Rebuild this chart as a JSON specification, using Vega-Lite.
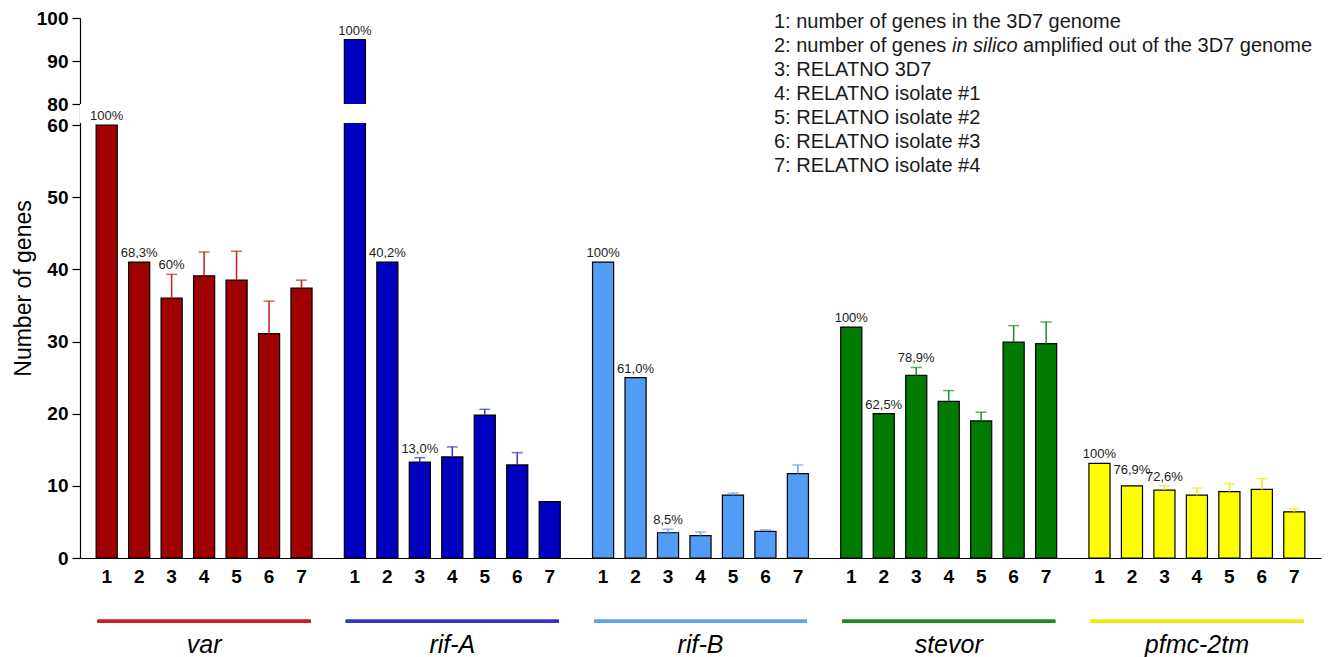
{
  "$schema": "https://vega.github.io/schema/vega-lite/v6.json",
  "width": 1241,
  "height": 540,
  "autosize": {"type": "none"},
  "padding": {"left": 80, "top": 18, "right": 10, "bottom": 99},
  "background": "white",
  "config": {"view": {"stroke": null}, "font": "Liberation Sans"},
  "layer": [
    {
      "data": {"values": [
        {"fam": "var", "n": "1", "value": 60, "hi": 60, "label": "100%"},
        {"fam": "var", "n": "2", "value": 41, "hi": 41, "label": "68,3%"},
        {"fam": "var", "n": "3", "value": 36, "hi": 39.3, "label": "60%"},
        {"fam": "var", "n": "4", "value": 39.1, "hi": 42.4, "label": null},
        {"fam": "var", "n": "5", "value": 38.5, "hi": 42.5, "label": null},
        {"fam": "var", "n": "6", "value": 31.1, "hi": 35.6, "label": null},
        {"fam": "var", "n": "7", "value": 37.4, "hi": 38.5, "label": null},
        {"fam": "rif-A", "n": "1", "value": 95, "hi": 95, "label": "100%"},
        {"fam": "rif-A", "n": "2", "value": 41, "hi": 41, "label": "40,2%"},
        {"fam": "rif-A", "n": "3", "value": 13.3, "hi": 13.9, "label": "13,0%"},
        {"fam": "rif-A", "n": "4", "value": 14.0, "hi": 15.4, "label": null},
        {"fam": "rif-A", "n": "5", "value": 19.8, "hi": 20.6, "label": null},
        {"fam": "rif-A", "n": "6", "value": 12.9, "hi": 14.6, "label": null},
        {"fam": "rif-A", "n": "7", "value": 7.8, "hi": 7.8, "label": null},
        {"fam": "rif-B", "n": "1", "value": 41, "hi": 41, "label": "100%"},
        {"fam": "rif-B", "n": "2", "value": 25, "hi": 25, "label": "61,0%"},
        {"fam": "rif-B", "n": "3", "value": 3.5, "hi": 4.0, "label": "8,5%"},
        {"fam": "rif-B", "n": "4", "value": 3.1, "hi": 3.6, "label": null},
        {"fam": "rif-B", "n": "5", "value": 8.7, "hi": 9.0, "label": null},
        {"fam": "rif-B", "n": "6", "value": 3.7, "hi": 3.9, "label": null},
        {"fam": "rif-B", "n": "7", "value": 11.7, "hi": 12.9, "label": null},
        {"fam": "stevor", "n": "1", "value": 32, "hi": 32, "label": "100%"},
        {"fam": "stevor", "n": "2", "value": 20, "hi": 20, "label": "62,5%"},
        {"fam": "stevor", "n": "3", "value": 25.3, "hi": 26.4, "label": "78,9%"},
        {"fam": "stevor", "n": "4", "value": 21.7, "hi": 23.2, "label": null},
        {"fam": "stevor", "n": "5", "value": 19.0, "hi": 20.2, "label": null},
        {"fam": "stevor", "n": "6", "value": 29.9, "hi": 32.2, "label": null},
        {"fam": "stevor", "n": "7", "value": 29.7, "hi": 32.7, "label": null},
        {"fam": "pfmc-2tm", "n": "1", "value": 13.1, "hi": 13.1, "label": "100%"},
        {"fam": "pfmc-2tm", "n": "2", "value": 10.0, "hi": 10.0, "label": "76,9%"},
        {"fam": "pfmc-2tm", "n": "3", "value": 9.4, "hi": 10.0, "label": "72,6%"},
        {"fam": "pfmc-2tm", "n": "4", "value": 8.7, "hi": 9.7, "label": null},
        {"fam": "pfmc-2tm", "n": "5", "value": 9.2, "hi": 10.3, "label": null},
        {"fam": "pfmc-2tm", "n": "6", "value": 9.5, "hi": 11.0, "label": null},
        {"fam": "pfmc-2tm", "n": "7", "value": 6.4, "hi": 6.8, "label": null}
      ]},
      "layer": [
        {
          "mark": {"type": "bar", "stroke": "black", "strokeWidth": 1.2},
          "encoding": {
            "x": {"field": "fam", "type": "nominal", "sort": null,
                  "scale": {"paddingInner": 0.13, "paddingOuter": 0.065},
                  "axis": {"title": null, "ticks": false, "tickSize": 0, "labelPadding": 94,
                           "labelBaseline": "alphabetic", "labelAngle": 0, "labelFontSize": 25,
                           "labelFontStyle": "italic", "labelColor": "black",
                           "domainColor": "black", "domainWidth": 1.2}},
            "xOffset": {"field": "n", "type": "nominal", "scale": {"paddingInner": 0.35, "paddingOuter": 0}},
            "y": {"field": "value", "type": "quantitative",
                  "scale": {"domain": [0, 60, 80, 100], "range": [540, 107, 86, 0], "nice": false, "zero": false},
                  "axis": {"title": "Number of genes", "values": [0, 10, 20, 30, 40, 50, 60, 80, 90, 100],
                           "grid": false, "labelFontSize": 19, "labelFontWeight": "bold", "labelColor": "black",
                           "labelPadding": 4, "tickSize": 8, "tickColor": "black", "tickWidth": 1.2,
                           "domainColor": "black", "domainWidth": 1.2,
                           "titleFontSize": 23, "titleFontWeight": "normal", "titleColor": "black", "titlePadding": 1}},
            "fill": {"field": "fam", "type": "nominal", "legend": null,
                     "scale": {"domain": ["var", "rif-A", "rif-B", "stevor", "pfmc-2tm"],
                               "range": ["#A00000", "#0000C0", "#529CF5", "#007A00", "#FFFF00"]}}
          }
        },
        {
          "mark": {"type": "rect", "fill": "white"},
          "encoding": {
            "y": {"datum": 61.9, "type": "quantitative"},
            "y2": {"datum": 79.8}
          }
        },
        {
          "transform": [{"filter": "datum.hi > datum.value"}],
          "mark": {"type": "rule", "strokeWidth": 1.5},
          "encoding": {
            "x": {"field": "fam", "type": "nominal", "sort": null},
            "xOffset": {"field": "n", "type": "nominal"},
            "y": {"field": "value", "type": "quantitative"},
            "y2": {"field": "hi"},
            "stroke": {"field": "fam", "type": "nominal", "legend": null,
                       "scale": {"domain": ["var", "rif-A", "rif-B", "stevor", "pfmc-2tm"],
                                 "range": ["#C81E1E", "#3434CC", "#5FA3F2", "#1E8C1E", "#F2EA00"]}}
          }
        },
        {
          "transform": [{"filter": "datum.hi > datum.value"}],
          "mark": {"type": "tick", "orient": "horizontal", "size": 11, "thickness": 1.5},
          "encoding": {
            "x": {"field": "fam", "type": "nominal", "sort": null},
            "xOffset": {"field": "n", "type": "nominal"},
            "y": {"field": "hi", "type": "quantitative"},
            "color": {"field": "fam", "type": "nominal", "legend": null,
                      "scale": {"domain": ["var", "rif-A", "rif-B", "stevor", "pfmc-2tm"],
                                "range": ["#C81E1E", "#3434CC", "#5FA3F2", "#1E8C1E", "#F2EA00"]}}
          }
        },
        {
          "transform": [{"filter": "datum.label != null && !(datum.fam == 'pfmc-2tm' && datum.n == '2')"}],
          "mark": {"type": "text", "baseline": "bottom", "dy": -2, "fontSize": 13, "color": "#222222"},
          "encoding": {
            "x": {"field": "fam", "type": "nominal", "sort": null},
            "xOffset": {"field": "n", "type": "nominal"},
            "y": {"field": "hi", "type": "quantitative"},
            "text": {"field": "label"}
          }
        },
        {
          "transform": [{"filter": "datum.fam == 'pfmc-2tm' && datum.n == '2'"}],
          "mark": {"type": "text", "baseline": "bottom", "dy": -9, "fontSize": 13, "color": "#222222"},
          "encoding": {
            "x": {"field": "fam", "type": "nominal", "sort": null},
            "xOffset": {"field": "n", "type": "nominal"},
            "y": {"field": "hi", "type": "quantitative"},
            "text": {"field": "label"}
          }
        },
        {
          "mark": {"type": "text", "baseline": "top", "dy": 10, "fontSize": 19, "fontWeight": "bold", "color": "black"},
          "encoding": {
            "x": {"field": "fam", "type": "nominal", "sort": null},
            "xOffset": {"field": "n", "type": "nominal"},
            "y": {"datum": 0, "type": "quantitative"},
            "text": {"field": "n"}
          }
        },
        {
          "mark": {"type": "tick", "orient": "horizontal", "size": 213, "thickness": 3},
          "encoding": {
            "x": {"field": "fam", "type": "nominal", "sort": null},
            "y": {"datum": -8.75, "type": "quantitative"},
            "color": {"field": "fam", "type": "nominal", "legend": null}
          }
        }
      ]
    },
    {
      "data": {"values": [
        {"line": 1, "part": "a", "text": "1: number of genes in the 3D7 genome"},
        {"line": 2, "part": "a", "text": "2: number of genes"},
        {"line": 2, "part": "b", "text": "in silico"},
        {"line": 2, "part": "c", "text": "amplified out of the 3D7 genome"},
        {"line": 3, "part": "a", "text": "3: RELATNO 3D7"},
        {"line": 4, "part": "a", "text": "4: RELATNO isolate #1"},
        {"line": 5, "part": "a", "text": "5: RELATNO isolate #2"},
        {"line": 6, "part": "a", "text": "6: RELATNO isolate #3"},
        {"line": 7, "part": "a", "text": "7: RELATNO isolate #4"}
      ]},
      "encoding": {
        "x": {"datum": 0.5592, "type": "quantitative", "scale": {"domain": [0, 1]}, "axis": null},
        "y": {"field": "line", "type": "quantitative", "scale": {"domain": [0.846, 23.35], "reverse": true, "nice": false, "zero": false}, "axis": null},
        "text": {"field": "text"}
      },
      "layer": [
        {"transform": [{"filter": "datum.part == 'a'"}],
         "mark": {"type": "text", "align": "left", "baseline": "middle", "fontSize": 20, "color": "#1a1a1a"}},
        {"transform": [{"filter": "datum.part == 'b'"}],
         "mark": {"type": "text", "align": "left", "baseline": "middle", "fontSize": 20, "fontStyle": "italic", "dx": 178, "color": "#1a1a1a"}},
        {"transform": [{"filter": "datum.part == 'c'"}],
         "mark": {"type": "text", "align": "left", "baseline": "middle", "fontSize": 20, "dx": 249, "color": "#1a1a1a"}}
      ]
    }
  ],
  "resolve": {"scale": {"x": "independent", "y": "independent"}}
}
